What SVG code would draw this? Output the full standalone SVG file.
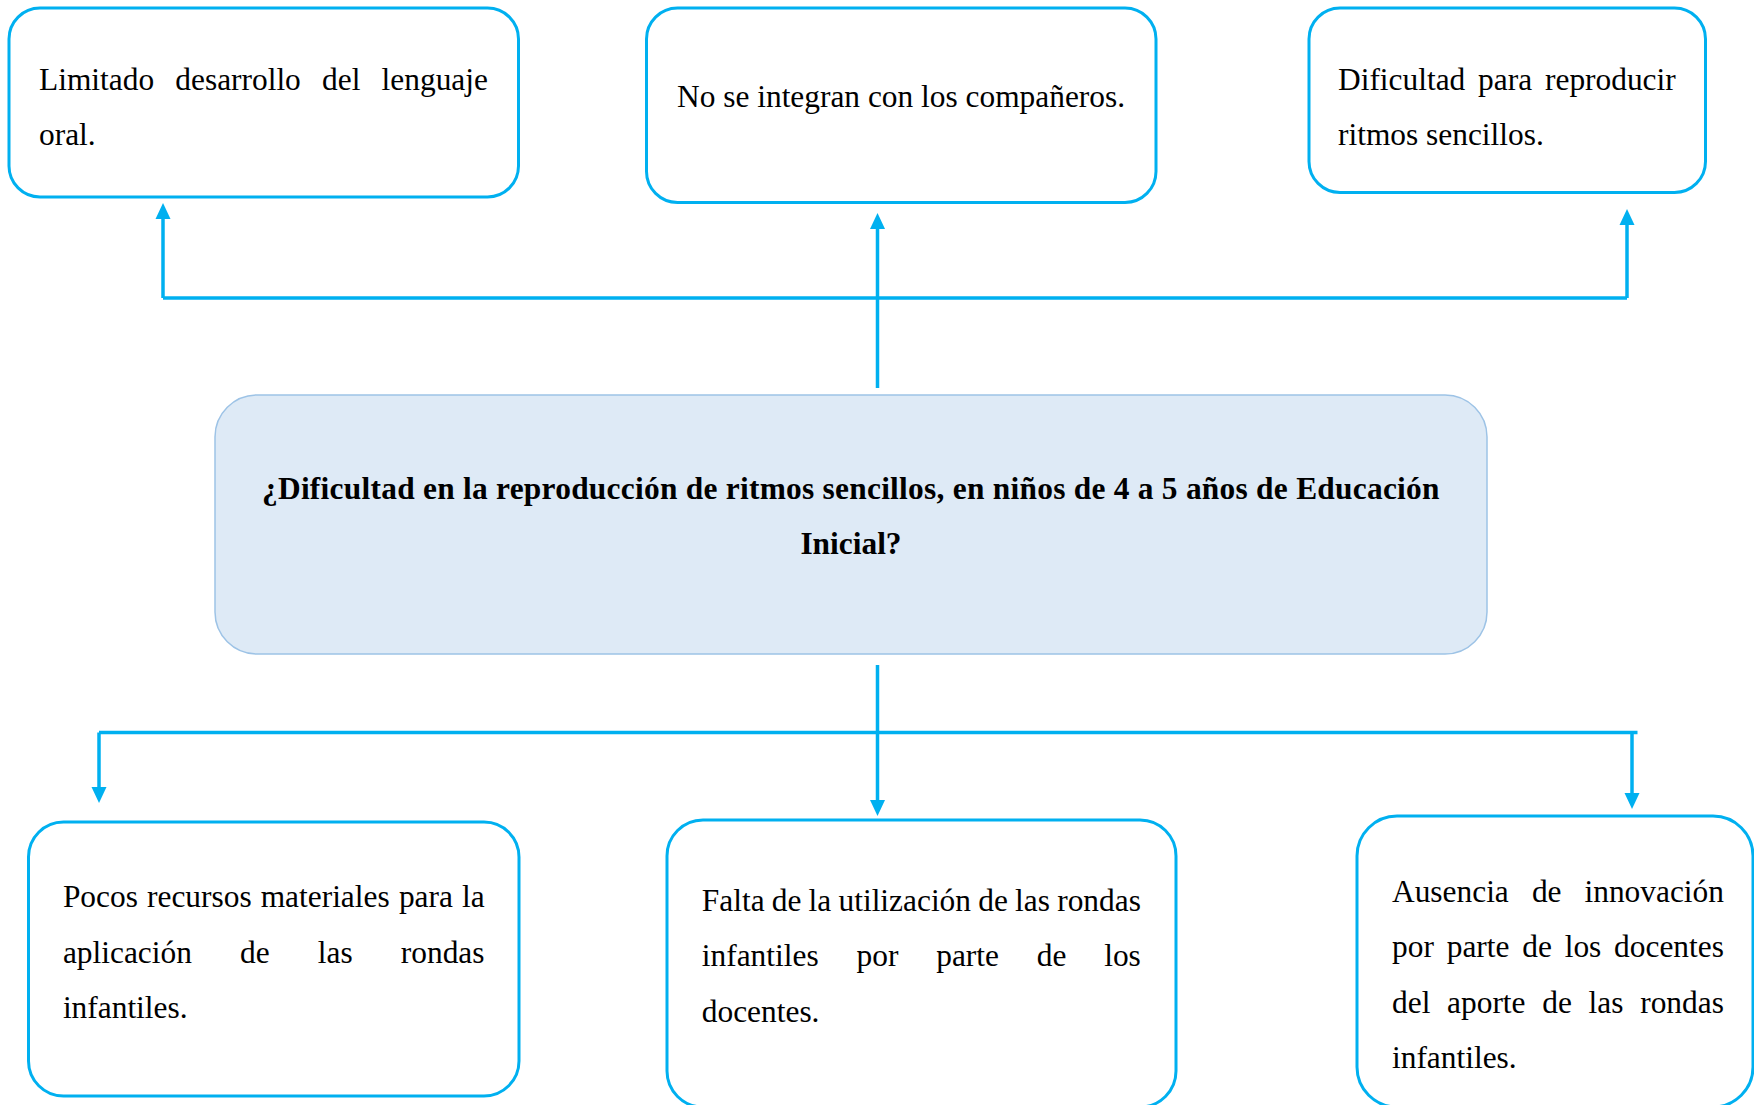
<svg xmlns="http://www.w3.org/2000/svg" width="1754" height="1105" viewBox="0 0 1754 1105">
<style>
.box{fill:#ffffff;stroke:#00B0F0;stroke-width:3}
.main{fill:#DEEAF6;stroke:#9DC3E6;stroke-width:1.5}
.t{font-family:"Liberation Serif","Times New Roman",serif;font-size:31.4px;fill:#000}
.b{font-weight:bold}
.c{fill:none;stroke:#00B0F0;stroke-width:3.5}
</style>
<defs>
<marker id="ah" markerUnits="userSpaceOnUse" markerWidth="17" markerHeight="16" refX="0" refY="8" orient="auto">
<path d="M0,0.5 L16,8 L0,15.5 Z" fill="#00B0F0"/>
</marker>
</defs>
<rect width="1754" height="1105" fill="#ffffff"/>

<g id="connectors">
<path class="c" d="M163,298 H1627"/>
<path class="c" d="M163,298 V219" marker-end="url(#ah)"/>
<path class="c" d="M1627,298 V225" marker-end="url(#ah)"/>
<path class="c" d="M877.5,388 V229" marker-end="url(#ah)"/>
<path class="c" d="M877.5,665 V800" marker-end="url(#ah)"/>
<path class="c" d="M99,732.5 H1637.5"/>
<path class="c" d="M99,732.5 V787" marker-end="url(#ah)"/>
<path class="c" d="M1632,732.5 V793" marker-end="url(#ah)"/>
</g>

<g id="node-lenguaje">
<rect class="box" x="9" y="8" width="509.5" height="189" rx="31"/>
<text class="t" y="90"><tspan x="39">Limitado</tspan><tspan x="175.3">desarrollo</tspan><tspan x="322.1">del</tspan><tspan x="381.6">lenguaje</tspan></text>
<text class="t" x="39" y="145">oral.</text>
</g>

<g id="node-companeros">
<rect class="box" x="646.5" y="8" width="509.5" height="194.5" rx="31"/>
<text class="t" x="677" y="107.3">No se integran con los compañeros.</text>
</g>

<g id="node-ritmos">
<rect class="box" x="1309" y="8" width="396.5" height="184.5" rx="31"/>
<text class="t" y="90"><tspan x="1338">Dificultad</tspan><tspan x="1478.1">para</tspan><tspan x="1545">reproducir</tspan></text>
<text class="t" x="1338" y="145">ritmos sencillos.</text>
</g>

<g id="node-problema">
<rect class="main" x="215" y="395" width="1272" height="259" rx="42"/>
<text class="t b" x="262" y="499" textLength="1177.5" lengthAdjust="spacing">¿Dificultad en la reproducción de ritmos sencillos, en niños de 4 a 5 años de Educación</text>
<text class="t b" x="851" y="554" text-anchor="middle">Inicial?</text>
</g>

<g id="node-recursos">
<rect class="box" x="28.5" y="822" width="490.5" height="274" rx="35"/>
<text class="t" y="907"><tspan x="62.9">Pocos</tspan><tspan x="147">recursos</tspan><tspan x="260.7">materiales</tspan><tspan x="398.9">para</tspan><tspan x="462">la</tspan></text>
<text class="t" y="963"><tspan x="62.9">aplicación</tspan><tspan x="240.1">de</tspan><tspan x="317.8">las</tspan><tspan x="400.8">rondas</tspan></text>
<text class="t" x="62.9" y="1018">infantiles.</text>
</g>

<g id="node-falta">
<rect class="box" x="667" y="820" width="509" height="287" rx="36"/>
<text class="t" y="910.7"><tspan x="701.8">Falta</tspan><tspan x="771.8">de</tspan><tspan x="808.6">la</tspan><tspan x="838.5">utilización</tspan><tspan x="978.3">de</tspan><tspan x="1015.1">las</tspan><tspan x="1057.2">rondas</tspan></text>
<text class="t" y="966"><tspan x="701.8">infantiles</tspan><tspan x="856.5">por</tspan><tspan x="936.2">parte</tspan><tspan x="1036.8">de</tspan><tspan x="1104.2">los</tspan></text>
<text class="t" x="701.8" y="1021.7">docentes.</text>
</g>

<g id="node-innovacion">
<rect class="box" x="1357" y="816" width="396" height="291" rx="40"/>
<text class="t" y="901.7"><tspan x="1392">Ausencia</tspan><tspan x="1531.9">de</tspan><tspan x="1584.5">innovación</tspan></text>
<text class="t" y="957.3"><tspan x="1392">por</tspan><tspan x="1446.7">parte</tspan><tspan x="1522.3">de</tspan><tspan x="1564.7">los</tspan><tspan x="1614.1">docentes</tspan></text>
<text class="t" y="1013"><tspan x="1392">del</tspan><tspan x="1447.1">aporte</tspan><tspan x="1542.3">de</tspan><tspan x="1588.6">las</tspan><tspan x="1640.2">rondas</tspan></text>
<text class="t" x="1392" y="1068">infantiles.</text>
</g>
</svg>
